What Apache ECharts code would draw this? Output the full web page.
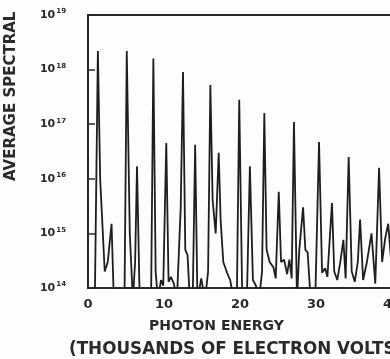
<!DOCTYPE html>
<html>
<head>
<meta charset="utf-8">
<script src="https://cdn.jsdelivr.net/npm/echarts@6/dist/echarts.min.js"></script>
<style>
  html, body { margin: 0; padding: 0; background: #fdfdfd; }
  #spectrum { width: 390px; height: 359px; }
</style>
</head>
<body>
<div id="spectrum"></div>
<script>
// photon energy, thousands of electron volts
var energy = [
	0.9, 1.3, 1.6, 2.2, 2.6, 3.1, 3.4,
	4.8, 5.1, 5.5, 5.9, 6.2, 6.45, 6.8,
	8.3, 8.6, 8.9, 9.2, 9.6, 9.9, 10.3, 10.6, 10.9, 11.3, 11.7,
	12.2, 12.5, 12.8, 13.1, 13.4, 13.8, 14.1, 14.4, 14.9, 15.4,
	15.8, 16.1, 16.4, 16.8, 17.2, 17.45, 17.8, 18.3, 18.7, 19.2,
	19.6, 19.9, 20.3, 20.9, 21.3, 21.7, 22.1, 22.5,
	22.9, 23.2, 23.5, 23.9, 24.4, 24.7, 25.1, 25.4, 25.8, 26.2, 26.5, 26.8,
	27.1, 27.5, 27.8, 28.3, 28.6, 28.9, 29.3,
	29.9, 30.4, 30.8, 31.2, 31.5, 32.1, 32.4, 32.8, 33.2, 33.6, 33.9,
	34.3, 34.7, 35.1, 35.5, 35.8, 36.2, 36.7, 37.3, 37.8,
	38.3, 38.7, 39.1, 39.5, 39.9, 40.3, 41.0, 41.4, 41.8
];
// average spectral intensity
var intensity = [
	6e13, 2.2e18, 1e16, 2e14, 3e14, 1.5e15, 6e13,
	6e13, 2.2e18, 1e15, 6e13, 3e14, 1.7e16, 6e13,
	6e13, 1.6e18, 2e14, 6e13, 1.4e14, 1.1e14, 4.5e16, 1.3e14, 1.6e14, 1.2e14, 6e13,
	3e15, 9e17, 5e14, 4e14, 6e13, 1e14, 4.2e16, 6e13, 1.5e14, 6e13,
	2e14, 5.2e17, 4e15, 1e15, 3e16, 1.8e15, 3e14, 1.9e14, 1.4e14, 6e13,
	1e14, 2.8e17, 6e13, 6e13, 1.7e16, 1.4e14, 1.1e14, 6e13,
	2e14, 1.6e17, 5e14, 3e14, 2.4e14, 1.5e14, 5.8e15, 3e14, 3.3e14, 1.8e14, 3.3e14, 1.5e14,
	1.1e17, 6e13, 5e14, 3e15, 5e14, 4.5e14, 6e13,
	6e13, 4.7e16, 1.9e14, 2.3e14, 1.6e14, 3.6e15, 2e14, 1.4e14, 3e14, 7.6e14, 1.5e14,
	2.5e16, 2e14, 1.3e14, 3e14, 1.8e15, 1.4e14, 3e14, 1e15, 1.2e14,
	1.6e16, 3e14, 8e14, 1.5e15, 3e14, 6e13, 2e14, 1e16, 6e13
];
var xTicks = [0, 10, 20, 30, 40];

var chartDom = document.getElementById('spectrum');
var myChart = echarts.init(chartDom);
var option;

var points = energy.map(function (e, i) { return [e, intensity[i]]; });

option = {
	backgroundColor : '#fdfdfd',
	animation : false,
	textStyle : { fontFamily : 'DejaVu Sans' },
	grid : {
		left : 88,
		top : 15,
		width : 342,
		height : 273,
		outerBoundsMode : 'none',
		containLabel : false,
		show : true,
		borderColor : '#2a2a2a',
		borderWidth : 2
	},
	xAxis : {
		type : 'value',
		min : 0,
		max : 45,
		interval : 10,
		axisLine : { lineStyle : { color : '#2a2a2a', width : 2 } },
		axisTick : { show : false },
		splitLine : { show : false },
		axisLabel : {
			color : '#2a2a2a',
			fontSize : 13,
			fontWeight : 'bold',
			margin : 10,
			formatter : function (v) {
				return xTicks.indexOf(v) >= 0 ? String(v) : '';
			}
		}
	},
	yAxis : {
		type : 'log',
		logBase : 10,
		min : 1e14,
		max : 1e19,
		axisLine : { show : true, lineStyle : { color : '#2a2a2a', width : 2 } },
		axisTick : { show : true, inside : true, length : 7, lineStyle : { color : '#2a2a2a', width : 1.5 } },
		splitLine : { show : false },
		minorTick : { show : false },
		axisLabel : {
			margin : 22,
			formatter : function (v) {
				var p = Math.round(Math.log10(v));
				return '{b|10}{s|' + p + '}';
			},
			rich : {
				b : { fontSize : 11, fontWeight : 'bold', color : '#2a2a2a' },
				s : { fontSize : 7, fontWeight : 'bold', color : '#2a2a2a', verticalAlign : 'top', padding : [0, 0, 7, 1] }
			}
		}
	},
	graphic : [
		{
			type : 'text',
			x : 4,
			y : 181,
			rotation : Math.PI / 2,
			style : {
				text : 'AVERAGE SPECTRAL',
				fill : '#2a2a2a',
				font : 'bold 15px "DejaVu Sans"'
			}
		},
		{
			type : 'text',
			left : 149,
			top : 319,
			style : {
				text : 'PHOTON ENERGY',
				fill : '#2a2a2a',
				font : 'bold 14px "DejaVu Sans"'
			}
		},
		{
			type : 'text',
			left : 69,
			top : 341,
			style : {
				text : '(THOUSANDS OF ELECTRON VOLTS)',
				fill : '#2a2a2a',
				font : 'bold 16.8px "DejaVu Sans"'
			}
		}
	],
	series : [ {
		type : 'line',
		data : points,
		symbol : 'none',
		clip : true,
		lineStyle : { color : '#1e1e1e', width : 1.8 }
	} ]
};

option && myChart.setOption(option);
</script>
</body>
</html>
